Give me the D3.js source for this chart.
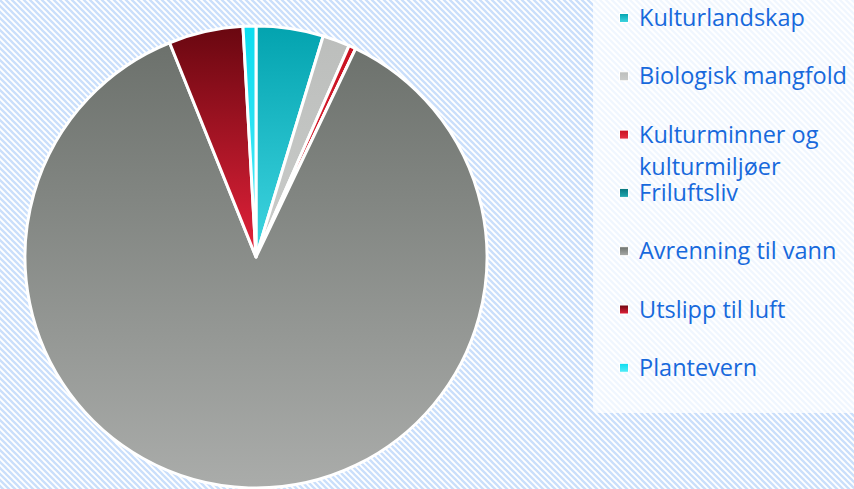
<!DOCTYPE html>
<html>
<head>
<meta charset="utf-8">
<script src="https://cdn.jsdelivr.net/npm/d3@7"></script>
<style>
  html, body { margin: 0; padding: 0; background: #fff; }
  svg { display: block; }
  .legend-text { font-family: "Open Sans", sans-serif; font-size: 23.5px; fill: #1769dc; }
</style>
</head>
<body>
<div id="chart"></div>
<script>
// data (share of total, %)
const categories = ["Kulturlandskap", "Biologisk mangfold", "Kulturminner og kulturmiljøer", "Friluftsliv",
                    "Avrenning til vann", "Utslipp til luft", "Plantevern"];
const values = [4.7, 1.9, 0.5, 0, 86.8, 5.2, 0.9];
const legendLines = [["Kulturlandskap"], ["Biologisk mangfold"], ["Kulturminner og", "kulturmiljøer"], ["Friluftsliv"],
                     ["Avrenning til vann"], ["Utslipp til luft"], ["Plantevern"]];
const colorTop = ["#03a3af", "#bcbebc", "#c8101f", "#06747c", "#6c716c", "#690710", "#0bdcef"];
const colorBottom = ["#40d6e2", "#caccca", "#e63244", "#22aab2", "#aaacaa", "#e4223a", "#55ecf8"];

const W = 854, H = 489;
const cx = 256, cy = 257, radius = 231;

const svg = d3.select("#chart").append("svg")
  .attr("width", W)
  .attr("height", H);

const defs = svg.append("defs");

// striped background
const pat = defs.append("pattern")
  .attr("id", "stripes")
  .attr("patternUnits", "userSpaceOnUse")
  .attr("width", 6)
  .attr("height", 6);
pat.append("rect").attr("width", 6).attr("height", 6).attr("fill", "#ffffff");
pat.append("path")
  .attr("d", "M-1,-1 L7,7 M-4,2 L1,7 M2,-4 L7,1")
  .attr("stroke", "#cadffb")
  .attr("stroke-width", 2.3);

categories.forEach((c, i) => {
  const g = defs.append("linearGradient")
    .attr("id", "grad" + i)
    .attr("x1", 0).attr("y1", 0).attr("x2", 0).attr("y2", 1);
  g.append("stop").attr("offset", "0%").attr("stop-color", colorTop[i]);
  g.append("stop").attr("offset", "100%").attr("stop-color", colorBottom[i]);
});

svg.append("rect")
  .attr("width", W)
  .attr("height", H)
  .attr("fill", "url(#stripes)");

const pie = d3.pie().sort(null).value(d => d);
const arc = d3.arc().innerRadius(0).outerRadius(radius);

const data = categories.map((c, i) => ({name: c, value: values[i], idx: i}));

svg.append("g")
  .attr("transform", "translate(" + cx + "," + cy + ")")
  .selectAll("path")
  .data(pie(values))
  .enter().append("path")
  .attr("d", arc)
  .attr("fill", (d, i) => "url(#grad" + i + ")")
  .attr("stroke", "#fff")
  .attr("stroke-width", 3)
  .attr("stroke-linejoin", "round");

// legend box
svg.append("rect")
  .attr("x", 593)
  .attr("y", -5)
  .attr("width", 270)
  .attr("height", 418)
  .attr("rx", 5)
  .attr("fill", "#ffffff")
  .attr("fill-opacity", 0.72);

const itemY = d3.scaleLinear().domain([0, 1]).range([26, 84.3]);

const legend = svg.selectAll(".legend")
  .data(data)
  .enter().append("g")
  .attr("class", "legend")
  .attr("transform", d => "translate(0," + itemY(d.idx) + ")");

legend.append("rect")
  .attr("x", 619.5)
  .attr("y", -12.5)
  .attr("width", 9)
  .attr("height", 9)
  .attr("fill", d => "url(#grad" + d.idx + ")")
  .attr("stroke", "#fff")
  .attr("stroke-width", 1);

legend.append("text")
  .attr("class", "legend-text")
  .attr("x", 639)
  .selectAll("tspan")
  .data(d => legendLines[d.idx])
  .enter().append("tspan")
  .attr("x", 639)
  .attr("y", (t, j) => j * 32)
  .text(t => t);
</script>
</body>
</html>
